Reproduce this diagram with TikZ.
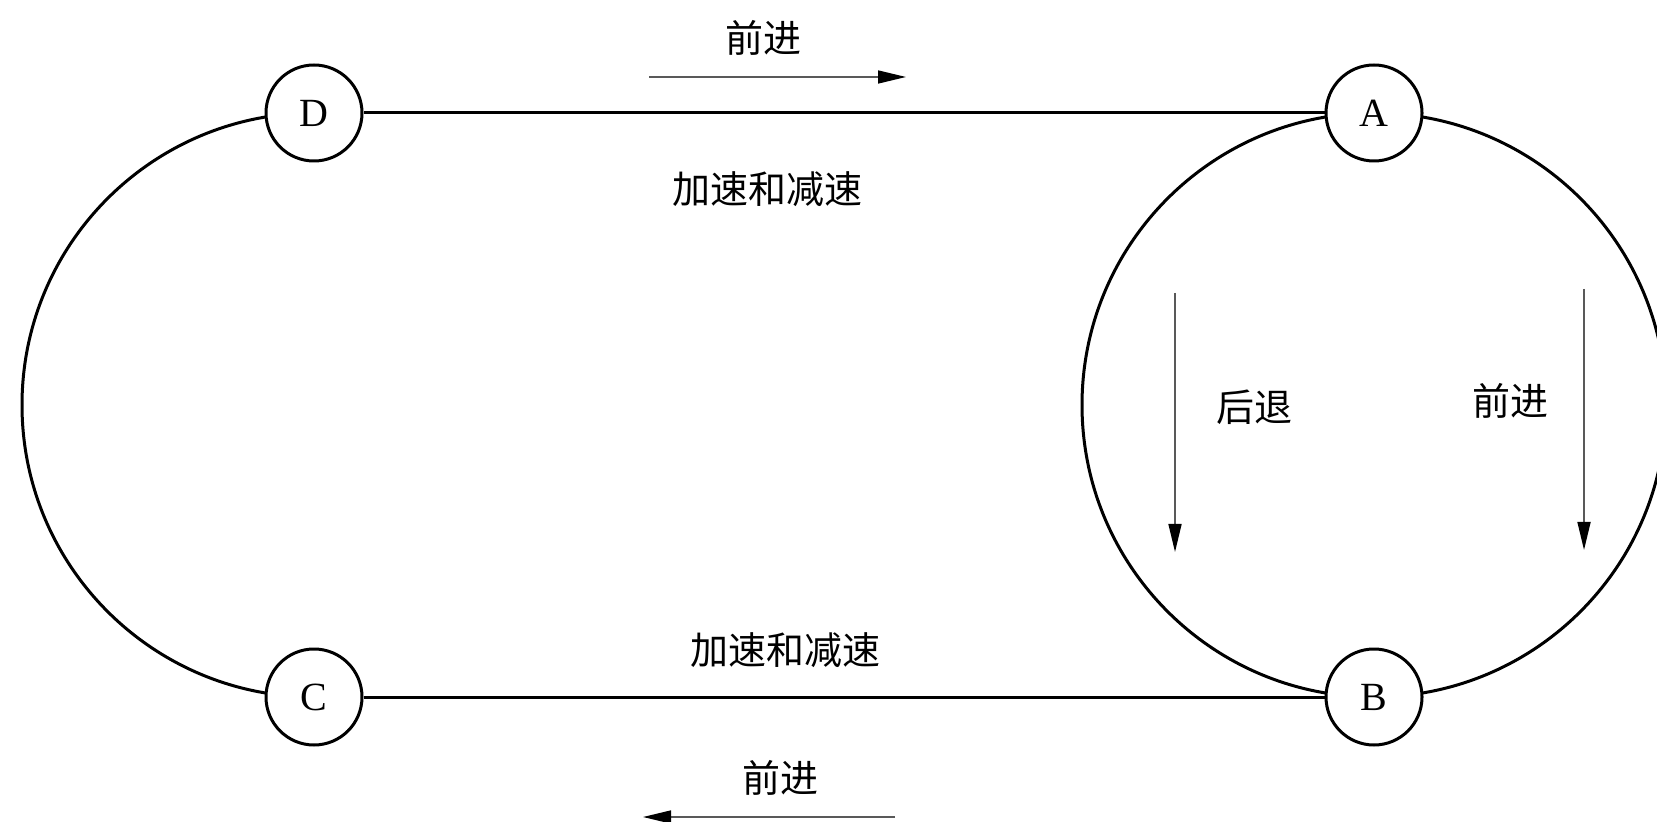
\documentclass[tikz,border=0pt]{standalone}
\usepackage{fontspec}
\setmainfont{Liberation Serif}
\newfontfamily\cjk{Noto Sans CJK SC}
\usetikzlibrary{arrows.meta}

\tikzset{
	station/.style={circle, draw, line width=1.5pt, fill=white, minimum size=48pt, inner sep=0pt, font=\fontsize{20}{24}\selectfont},
	track/.style={line width=1.5pt},
	motion/.style={line width=0.8pt, draw=black!65, -{Triangle[length=14pt,width=6.5pt,color=black]}},
	caption/.style={font=\cjk\fontsize{19}{23}\selectfont, inner sep=0pt}
}

\begin{document}
\begin{tikzpicture}[x=0.5pt,y=0.5pt,yscale=-1,xscale=1]
	\useasboundingbox (0,0) rectangle (1657,822);
	% track centres
	\coordinate (pA) at (1374,113);
	\coordinate (pB) at (1374,697);
	\coordinate (pC) at (314,697);
	\coordinate (pD) at (314,113);
	\draw [track] (pD) arc [start angle=270, end angle=90, radius=292];
	\draw [track] (pA) arc [start angle=270, delta angle=360, radius=292];
	\node (A) [station] at (pA) {A};
	\node (B) [station] at (pB) {B};
	\node (C) [station] at (pC) {C};
	\node (D) [station] at (pD) {D};
	\draw [track] (D) -- (A);
	\draw [track] (C) -- (B);
	% labels
	\node (fwdTop) [caption] at (763,38) {前进};
	\node (accTop) [caption] at (767,189) {加速和减速};
	\node (accBot) [caption] at (785,650) {加速和减速};
	\node (fwdBot) [caption] at (780,778) {前进};
	\node (back) [caption] at (1254,407) {后退};
	\node (fwdRight) [caption] at (1510,401) {前进};
	% direction arrows
	\coordinate (fwdTopS) at (649,77);
	\coordinate (fwdTopE) at (906,77);
	\coordinate (fwdBotS) at (895,817);
	\coordinate (fwdBotE) at (643,817);
	\coordinate (backS) at (1175,293);
	\coordinate (backE) at (1175,552);
	\coordinate (fwdRightS) at (1584,289);
	\coordinate (fwdRightE) at (1584,550);
	\draw [motion] (fwdTopS) -- (fwdTopE);
	\draw [motion] (fwdBotS) -- (fwdBotE);
	\draw [motion] (backS) -- (backE);
	\draw [motion] (fwdRightS) -- (fwdRightE);
\end{tikzpicture}
\end{document}
